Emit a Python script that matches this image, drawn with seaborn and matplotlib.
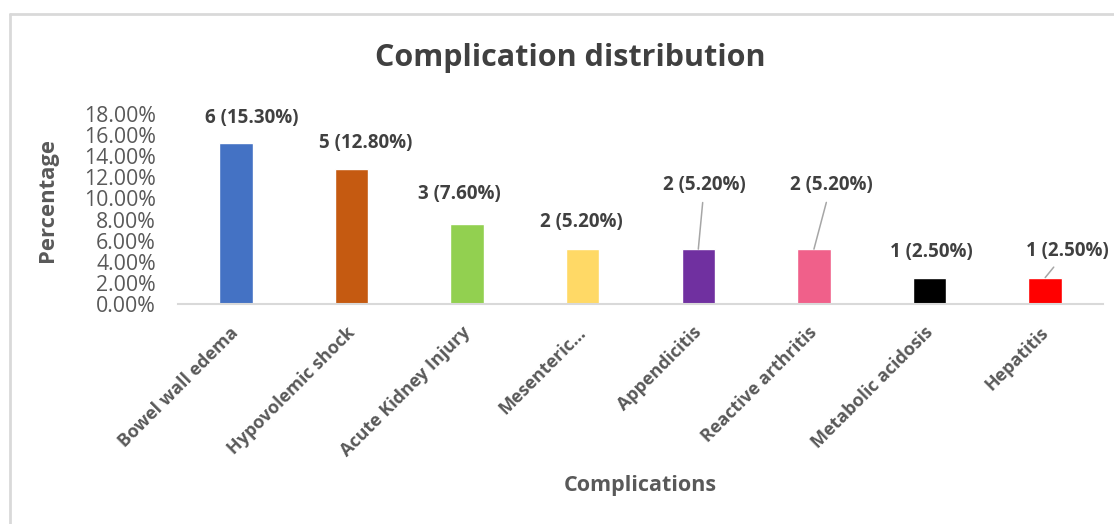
import matplotlib
matplotlib.use("Agg")
import matplotlib.pyplot as plt
import matplotlib.transforms as mtransforms
from matplotlib.lines import Line2D
import seaborn as sns
import pandas as pd

# Complication counts and their share of patients
categories = ["Bowel wall edema", "Hypovolemic shock", "Acute Kidney Injury",
              "Mesenteric...", "Appendicitis", "Reactive arthritis",
              "Metabolic acidosis", "Hepatitis"]
counts = [6, 5, 3, 2, 2, 2, 1, 1]
percentages = [15.3, 12.8, 7.6, 5.2, 5.2, 5.2, 2.5, 2.5]
y_ticks = [0, 2, 4, 6, 8, 10, 12, 14, 16, 18]

colors = ["#4472C4", "#C55A11", "#92D050", "#FFD966",
          "#7030A0", "#F0608A", "#000000", "#FF0000"]

# label offsets (pixels from each bar top) and whether a leader line is drawn
label_dx = [16, 14, -8, -1, 6, 17, 2, 22]
label_dy = [25, 26, 30, 27, 64, 64, 26, 27]
leader = [False, False, False, False, True, True, False, True]

sns.set_style("white")
plt.rcParams["font.family"] = ["Open Sans", "DejaVu Sans"]

df = pd.DataFrame({"Complication": categories, "Percentage": percentages})

W, H = 1114, 524
fig = plt.figure(figsize=(W / 100, H / 100), dpi=100)
ax = fig.add_axes([178 / W, (H - 304) / H, (1103 - 178) / W, (304 - 114) / H])

sns.barplot(data=df, x="Complication", y="Percentage", hue="Complication",
            palette=colors, order=categories, hue_order=categories,
            width=0.29, saturation=1, legend=False, ax=ax)

ax.set_ylim(0, 18)
ax.set_xlim(-0.5, len(categories) - 0.5)
ax.set_yticks(y_ticks)
ax.set_yticklabels([f"{v:.2f}%" for v in y_ticks], color="#595959", fontsize=15.3)
ax.set_xticks(range(len(categories)))
ax.set_xticklabels(categories, rotation=45, ha="right", va="top",
                   rotation_mode="anchor", color="#595959", fontsize=13,
                   fontweight="bold")
ax.tick_params(axis="x", length=0, pad=14)
ax.tick_params(axis="y", length=0, pad=16)

# nudge rotated category labels so their ends sit under the bar centres
shift = mtransforms.ScaledTranslation(-6 / 100, 0, fig.dpi_scale_trans)
for lbl in ax.get_xticklabels():
    lbl.set_transform(lbl.get_transform() + shift)

for side in ["top", "right", "left"]:
    ax.spines[side].set_visible(False)
ax.spines["bottom"].set_color("#D9D9D9")
ax.spines["bottom"].set_linewidth(1.5)

ax.set_ylabel("")
ax.set_xlabel("")
fig.text(47 / W, 1 - 200 / H, "Percentage", fontsize=15.8, fontweight="bold",
         color="#595959", ha="center", va="center", rotation=90)
fig.text(640 / W, 1 - 486 / H, "Complications", fontsize=15.5, fontweight="bold",
         color="#595959", ha="center", va="center")
fig.text(570 / W, 1 - 58 / H, "Complication distribution", fontsize=22,
         fontweight="bold", color="#404040", ha="center", va="center")

for i, (n, p) in enumerate(zip(counts, percentages)):
    txt = f"{n} ({p:.2f}%)"
    props = None
    if leader[i]:
        props = dict(arrowstyle="-", color="#A6A6A6", lw=1.1,
                     shrinkA=3, shrinkB=0)
    ax.annotate(txt, xy=(i, p), xytext=(label_dx[i], label_dy[i]),
                textcoords="offset pixels", ha="center", va="center",
                fontsize=13.5, fontweight="bold", color="#404040",
                arrowprops=props, annotation_clip=False)

# chart area border
border_kw = dict(color="#D9D9D9", lw=2, transform=fig.transFigure)
fig.add_artist(Line2D([9.5 / W, 1], [1 - 14 / H, 1 - 14 / H], **border_kw))
fig.add_artist(Line2D([9.5 / W, 9.5 / W], [0, 1 - 14 / H], **border_kw))

fig.savefig("out.png", dpi=100)
